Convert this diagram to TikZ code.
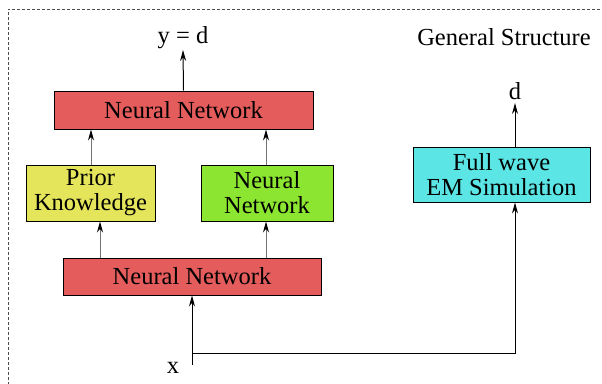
\documentclass[tikz,border=0pt]{standalone}
\usepackage{fontspec}
\setmainfont{Liberation Serif}
\usetikzlibrary{arrows.meta}
\definecolor{nnred}{HTML}{E55C5C}
\definecolor{pkyellow}{HTML}{E5E55C}
\definecolor{nngreen}{HTML}{8CE530}
\definecolor{emcyan}{HTML}{5CE5E5}
\begin{document}
\begin{tikzpicture}[x=1pt,y=-1pt,
  blk/.style={draw=black, line width=1pt, inner sep=0pt, align=center, font=\fontsize{24.5}{25}\selectfont},
  lbl/.style={inner sep=0pt, font=\fontsize{24.5}{25}\selectfont},
  arr/.style={-{Stealth[length=11pt,width=6pt,color=black]}, line width=1pt},
  garr/.style={arr, draw=black!55}]
\useasboundingbox (0,0) rectangle (602,383);
\draw[densely dashed, line width=0.6pt, black!70] (8,400) -- (8,9) -- (620,9);
\node[blk, fill=nnred, minimum width=259pt, minimum height=38pt] (nntop) at (183.5,110) {Neural Network};
\node[blk, fill=pkyellow, minimum width=129pt, minimum height=56pt] (pk) at (90.5,193) {Prior\\Knowledge};
\node[blk, fill=nngreen, minimum width=132pt, minimum height=56pt] (nnmid) at (267,193) {Neural\\Network};
\node[blk, fill=emcyan, minimum width=177pt, minimum height=55pt] (em) at (501.5,174.5) {Full wave\\EM Simulation};
\node[blk, fill=nnred, minimum width=258pt, minimum height=37pt] (nnbot) at (192,276.5) {Neural Network};
\node[lbl] (y) at (183,38) {y = d};
\node[lbl] (d) at (515,91) {d};
\node[lbl] (gs) at (504,37) {General Structure};
\node[lbl] (x) at (173,368) {x};
\coordinate (xs) at (192,365);
\coordinate (br) at (192,353);
\coordinate (bre) at (515,353);
\draw[arr] (nntop.north) -- (183,50);
\draw[arr] (em.north -| d) -- (515,103);
\draw[garr] (pk.north -| 91,0) -- (nntop.south -| 91,0);
\draw[garr] (nnmid.north -| 266,0) -- (nntop.south -| 266,0);
\draw[garr] (nnbot.north -| 100,0) -- (pk.south -| 100,0);
\draw[garr] (nnbot.north -| 266,0) -- (nnmid.south -| 266,0);
\draw[arr] (xs) -- (nnbot.south -| xs);
\draw[arr] (br) -- (bre) -- (em.south -| bre);
\end{tikzpicture}
\end{document}
